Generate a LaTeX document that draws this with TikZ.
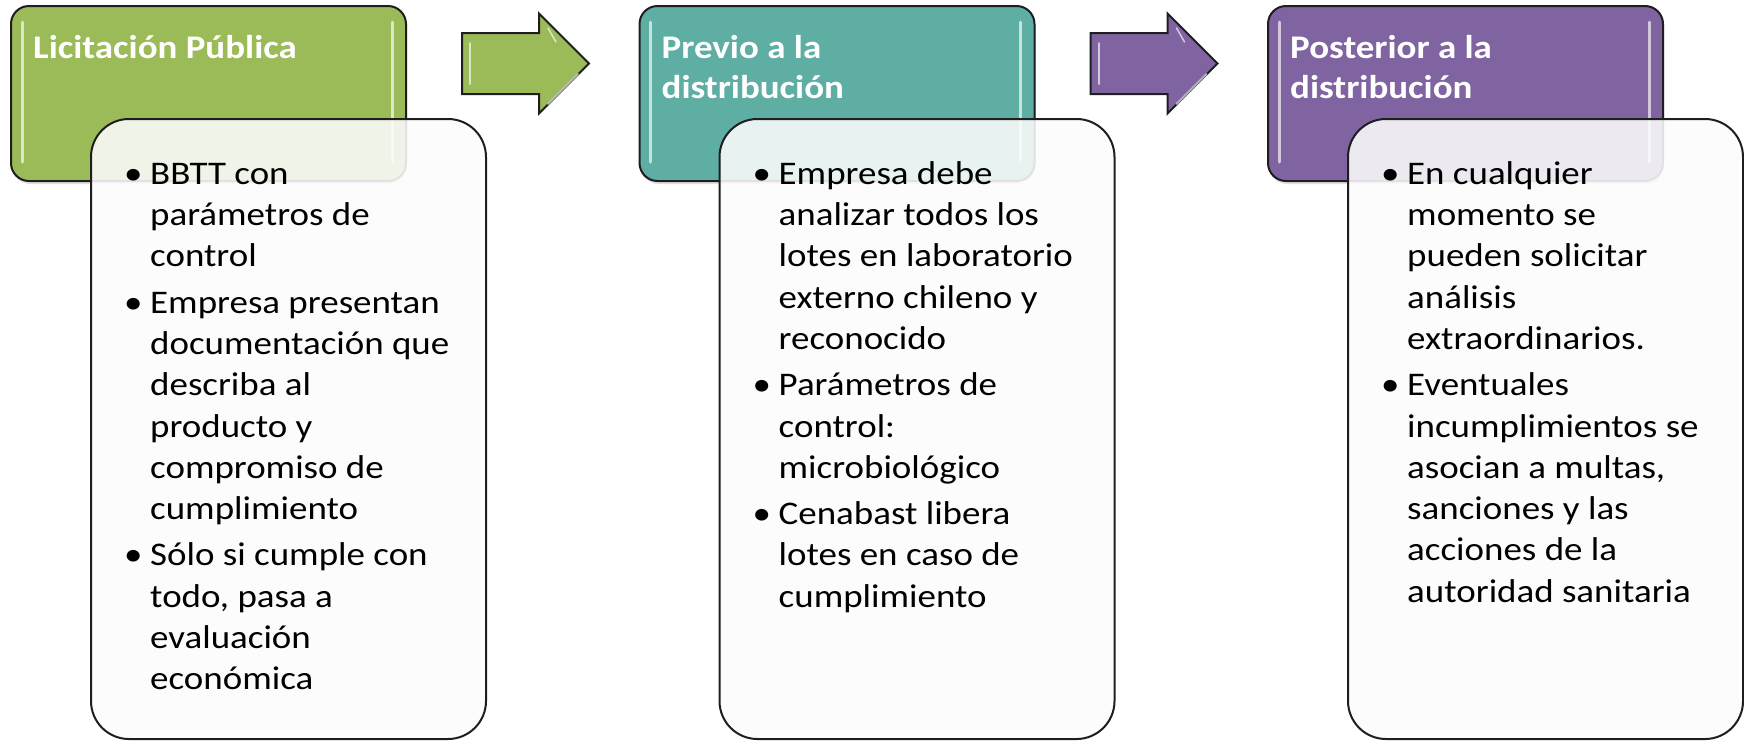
\documentclass[tikz,border=0pt]{standalone}
\usepackage{fontspec}
\setmainfont{Carlito}[FakeStretch=1.12]
\usetikzlibrary{shadows}

\definecolor{licgreen}{HTML}{9BBB59}
\definecolor{prevteal}{HTML}{5EAEA4}
\definecolor{postpurple}{HTML}{8064A2}
\definecolor{edge}{HTML}{1E1E1E}

\newcommand{\bul}{\makebox[22pt][l]{\hspace*{-4pt}•}}
\newcommand{\ind}{\hspace*{22pt}}
\newcommand{\fst}{\rule{0pt}{30pt}}

\tikzset{
    hdr/.style={draw=edge, line width=2pt, rounded corners=18pt, anchor=north west,
        minimum width=395pt, minimum height=175pt, inner sep=0pt,
        drop shadow={opacity=.25, shadow xshift=1pt, shadow yshift=-3pt}},
    bodybox/.style={draw=edge, line width=2pt, rounded corners=38pt, anchor=north west,
        minimum width=395pt, minimum height=620pt, inner sep=0pt,
        fill=white!99!black, fill opacity=.88},
    ttl/.style={text=white, font=\bfseries\fontsize{33}{40}\selectfont, align=left,
        anchor=north west, inner sep=0pt},
    txt/.style={text=black, font=\fontsize{33}{41.3}\selectfont, align=left,
        anchor=north west, inner sep=0pt},
    blkarrow/.style={draw=edge, line width=2pt, line join=miter},
    shine/.style={white, opacity=.65, line width=3pt, line cap=round}
}

\begin{document}
\begin{tikzpicture}[x=1pt, y=-1pt]
\useasboundingbox (0,0) rectangle (1744,740);

% header boxes
\foreach \i/\col in {1/licgreen,2/prevteal,3/postpurple}
{
    \node[hdr, fill=\col] (hdr\i) at ({10+(\i-1)*628.5},5) {};
    \draw[shine] ({22+(\i-1)*628.5},22) -- ({22+(\i-1)*628.5},162);
    \draw[shine] ({392+(\i-1)*628.5},22) -- ({392+(\i-1)*628.5},162);
}

% block arrows
\foreach \i/\col in {1/licgreen,2/postpurple}
{
\begin{scope}[xshift=(\i-1)*628.5]
    \draw[blkarrow, fill=\col] (462,33) -- (539,33) -- (539,13.5) -- (589,63.5)
        -- (539,113.5) -- (539,94) -- (462,94) -- cycle;
    \draw[shine, line width=2pt] (470,43) -- (470,84);
    \draw[shine, line width=2pt] (548,104) -- (578,74);
    \draw[shine, line width=1.5pt] (548,28) -- (556,42);
\end{scope}
}

% body boxes
\foreach \i in {1,2,3}
{
    \node[bodybox] (body\i) at ({90+(\i-1)*628.5},118) {};
}

% titles
\node[ttl] (ttl1) at (33,28) {\fst Licitación Pública};
\node[ttl] (ttl2) at (661.5,28) {\fst Previo a la\\distribución};
\node[ttl] (ttl3) at (1290,28) {\fst Posterior a la\\distribución};

% bullet texts
\node[txt] (txt1) at (128,154) {\bul\fst BBTT con\\\ind parámetros de\\\ind control\\[5pt]%
\bul Empresa presentan\\\ind documentación que\\\ind describa al\\\ind producto y\\%
\ind compromiso de\\\ind cumplimiento\\[5pt]%
\bul Sólo si cumple con\\\ind todo, pasa a\\\ind evaluación\\\ind económica};
\node[txt] (txt2) at (756.5,154) {\bul\fst Empresa debe\\\ind analizar todos los\\%
\ind lotes en laboratorio\\\ind externo chileno y\\\ind reconocido\\[5pt]%
\bul Parámetros de\\\ind control:\\\ind microbiológico\\[5pt]%
\bul Cenabast libera\\\ind lotes en caso de\\\ind cumplimiento};
\node[txt] (txt3) at (1385,154) {\bul\fst En cualquier\\\ind momento se\\%
\ind pueden solicitar\\\ind análisis\\\ind extraordinarios.\\[5pt]%
\bul Eventuales\\\ind incumplimientos se\\\ind asocian a multas,\\%
\ind sanciones y las\\\ind acciones de la\\\ind autoridad sanitaria};

\end{tikzpicture}
\end{document}
